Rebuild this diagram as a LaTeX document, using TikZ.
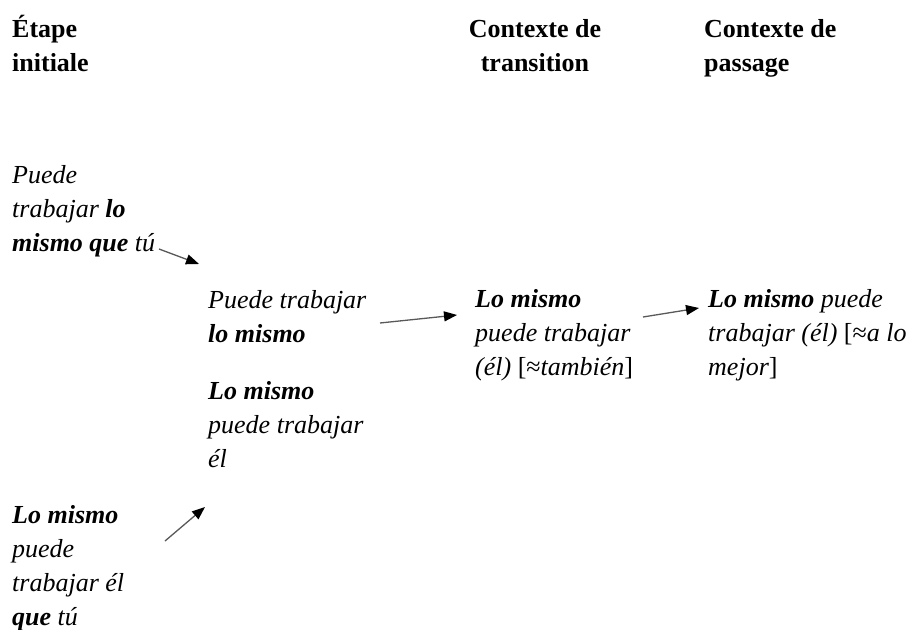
\documentclass[tikz,border=0pt]{standalone}
\usepackage{fontspec}
\setmainfont{Liberation Serif}
\usetikzlibrary{arrows.meta}
\begin{document}
\begin{tikzpicture}[x=1pt,y=-1pt,
  txt/.style={anchor=base west, inner sep=0pt, align=left, font=\fontsize{26}{34}\selectfont\itshape},
  hdr/.style={anchor=base west, inner sep=0pt, font=\fontsize{26}{34}\selectfont\bfseries},
  arr/.style={-{Triangle[length=13pt,width=10pt,color=black]}, line width=1.3pt, draw=black!65}]
\useasboundingbox (0,0) rectangle (907,629);
% headers (anchored at the baseline of their last line)
\node[hdr, align=left] (h1) at (12,71) {Étape\\initiale};
\node[hdr, align=center, anchor=base] (h2) at (535,71) {Contexte de\\transition};
\node[hdr, align=left] (h3) at (704,71) {Contexte de\\passage};
% texts (anchored at the baseline of their last line)
\node[txt] (A) at (12,251) {Puede\\trabajar \textbf{lo}\\\textbf{mismo que} tú};
\node[txt] (B) at (208,342) {Puede trabajar\\\textbf{lo mismo}};
\node[txt] (C) at (208,467) {\textbf{Lo mismo}\\puede trabajar\\él};
\node[txt] (D) at (475,375) {\textbf{Lo mismo}\\puede trabajar\\(él) {\upshape[≈}también{\upshape]}};
\node[txt] (E) at (708,375) {\textbf{Lo mismo} puede\\trabajar (él) {\upshape[≈}a lo\\mejor{\upshape]}};
\node[txt] (F) at (12,625) {\textbf{Lo mismo}\\puede\\trabajar él\\\textbf{que} tú};
% arrow end points
\coordinate (a1) at (159,249);
\coordinate (a2) at (199,264);
\coordinate (b1) at (380,323);
\coordinate (b2) at (457,315);
\coordinate (d1) at (643,317);
\coordinate (d2) at (699,308);
\coordinate (f1) at (165,541);
\coordinate (f2) at (205,507);
\draw[arr] (a1) -- (a2);
\draw[arr] (b1) -- (b2);
\draw[arr] (d1) -- (d2);
\draw[arr] (f1) -- (f2);
\end{tikzpicture}
\end{document}
